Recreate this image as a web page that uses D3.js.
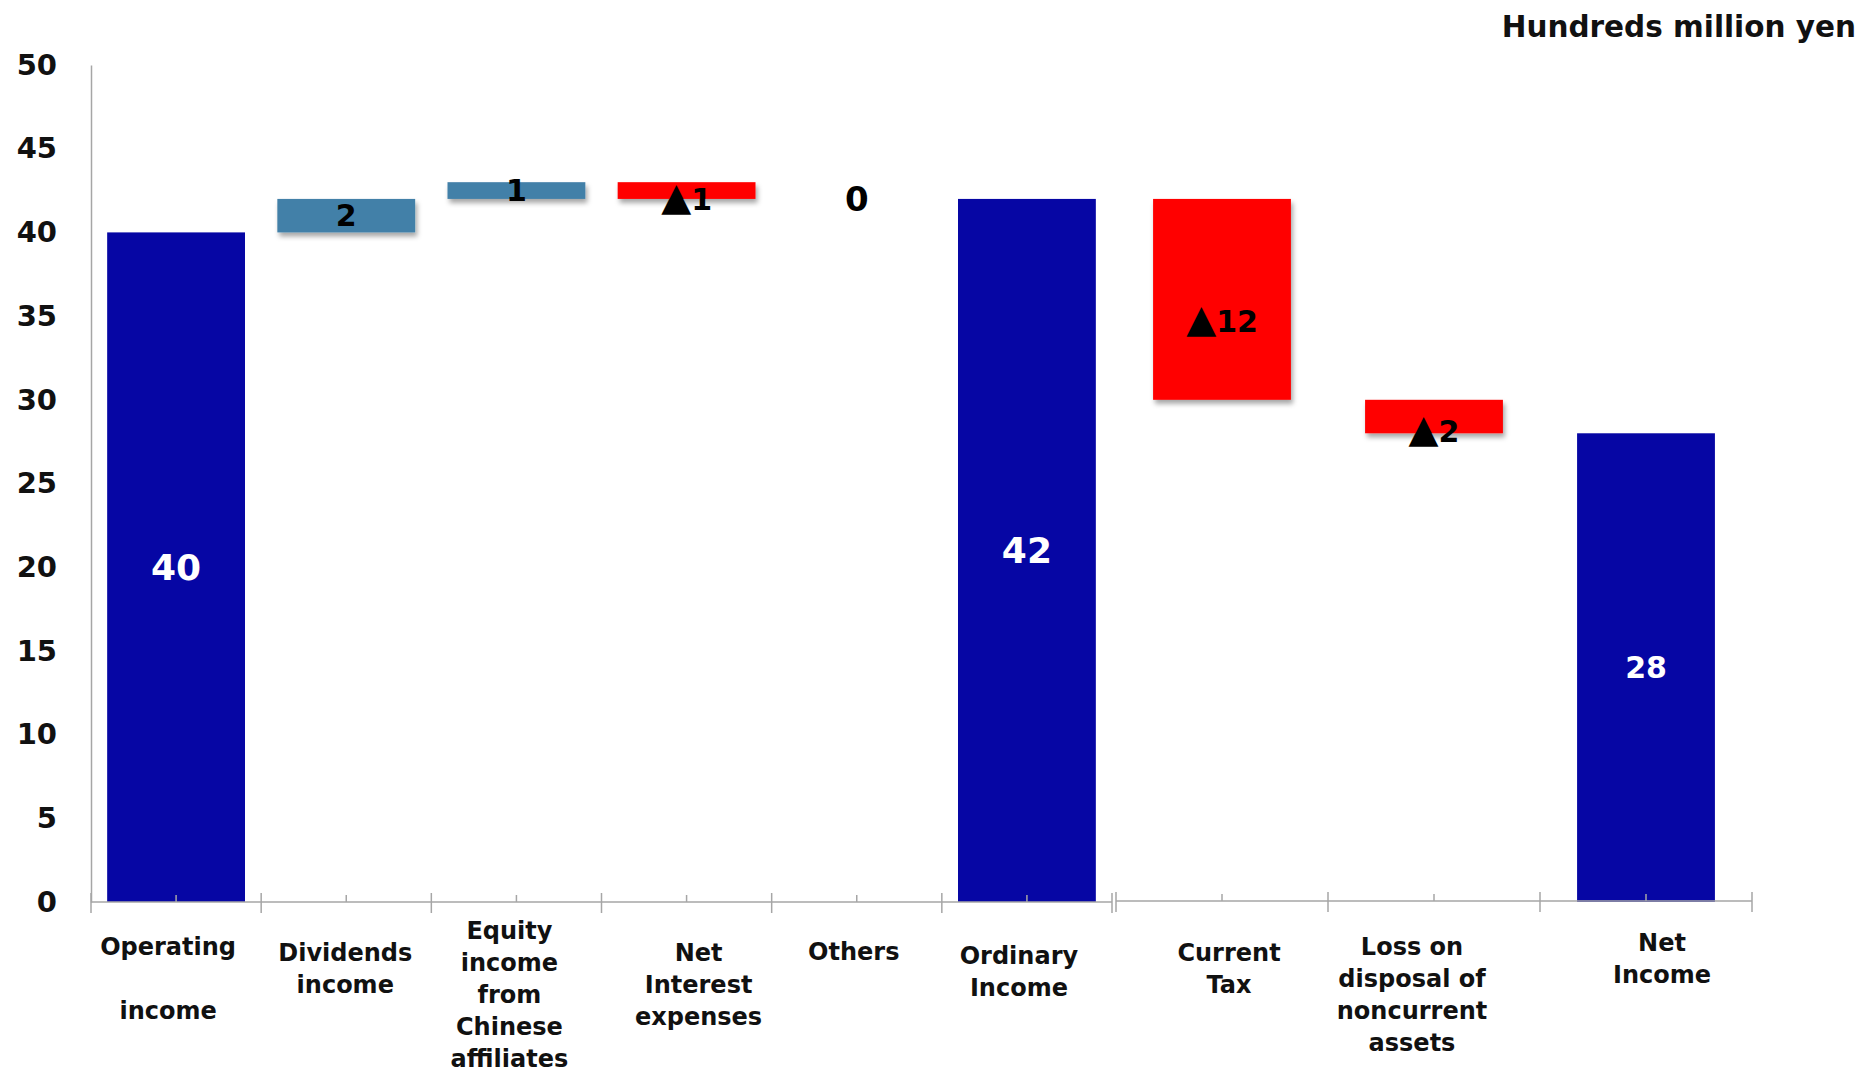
<!DOCTYPE html>
<html>
<head>
<meta charset="utf-8">
<script src="https://cdn.jsdelivr.net/npm/d3@7"></script>
<style>
  body { margin: 0; background: #fff; }
  svg text { font-family: "DejaVu Sans", Verdana, sans-serif; font-weight: bold; }
</style>
</head>
<body>
<svg width="1862" height="1073"></svg>
<script>
// data
const categories = ['Operating income', 'Dividends income', 'Equity income from Chinese affiliates',
  'Net Interest expenses', 'Others', 'Ordinary Income', 'Current Tax',
  'Loss on disposal of noncurrent assets', 'Net Income'];
const labelLines = [
  ['Operating', '', 'income'], ['Dividends', 'income'], ['Equity', 'income', 'from', 'Chinese', 'affiliates'],
  ['Net', 'Interest', 'expenses'], ['Others'], ['Ordinary', 'Income'], ['Current', 'Tax'],
  ['Loss on', 'disposal of', 'noncurrent', 'assets'], ['Net', 'Income']];
const values = [40, 2, 1, -1, 0, 42, -12, -2, 28];
const isTotal = [true, false, false, false, false, true, false, false, true];
const yTicks = [0, 5, 10, 15, 20, 25, 30, 35, 40, 45, 50];
const unitLabel = 'Hundreds million yen';

// layout tweaks
const labelAt = [null, null, null, 42, 42, null, 34.7, 28.1, null]; // value where the number sits (null = middle)
const labelSize = [36, 30, 30, 30, 34, 36, 30, 30, 30];
const catLabelY = [946, 952, 930, 952, 951, 955, 952, 946, 942];
const catLabelDx = [-8, -1, -7, 12, -3, -8, 7, -22, 16];

const colTotal = '#0606a4', colUp = '#4380a8', colDown = '#ff0505', axisCol = '#a6a6a6';

const svg = d3.select('svg');

const y = d3.scaleLinear().domain([0, 50]).range([902, 65]);
const xLeft = d3.scaleBand().domain(categories.slice(0, 6)).range([91, 1112]);
const xRight = d3.scaleBand().domain(categories.slice(6)).range([1116, 1752]);
const xOf = c => (xLeft.domain().includes(c) ? xLeft : xRight);
const xc = c => xOf(c)(c) + xOf(c).bandwidth() / 2;
const barW = xLeft.bandwidth() * 0.81;

// running totals for the waterfall
let run = 0;
const bars = categories.map((c, i) => {
  let lo, hi;
  if (isTotal[i]) { lo = 0; hi = values[i]; run = values[i]; }
  else { const s = run; run += values[i]; lo = Math.min(s, run); hi = Math.max(s, run); }
  return { c, i, v: values[i], lo, hi, end: run };
});

const defs = svg.append('defs');
const f = defs.append('filter').attr('id', 'shadow')
  .attr('x', '-10%').attr('y', '-30%').attr('width', '130%').attr('height', '180%');
f.append('feDropShadow').attr('dx', 2).attr('dy', 4).attr('stdDeviation', 2.5)
  .attr('flood-color', '#000').attr('flood-opacity', 0.35);

// bars
svg.append('g').selectAll('rect')
  .data(bars.filter(d => d.v !== 0))
  .join('rect')
  .attr('x', d => xc(d.c) - barW / 2)
  .attr('width', barW)
  .attr('y', d => y(d.hi))
  .attr('height', d => y(d.lo) - y(d.hi))
  .attr('fill', d => isTotal[d.i] ? colTotal : (d.v > 0 ? colUp : colDown))
  .attr('filter', d => isTotal[d.i] ? null : 'url(#shadow)');

// y axis
const yAxis = svg.append('g').attr('transform', 'translate(91,0)')
  .call(d3.axisLeft(y).tickValues(yTicks).tickSize(0).tickPadding(34));
yAxis.select('.domain').attr('stroke', axisCol).attr('stroke-width', 1.5);
yAxis.selectAll('text').attr('font-size', 29).attr('fill', '#111').attr('font-family', '"DejaVu Sans", sans-serif');

// x axis, two panels
const ax = svg.append('g').attr('stroke', axisCol).attr('stroke-width', 1.5);
[[xLeft, 902], [xRight, 901]].forEach(([sc, y0]) => {
  const r = sc.range();
  ax.append('line').attr('x1', r[0]).attr('x2', r[1]).attr('y1', y0).attr('y2', y0);
  const edges = sc.domain().map(c => sc(c)).concat([r[1]]);
  edges.forEach(e => ax.append('line').attr('x1', e).attr('x2', e).attr('y1', y0 - 9).attr('y2', y0 + 11));
  sc.domain().forEach(c => {
    const m = sc(c) + sc.bandwidth() / 2;
    ax.append('line').attr('x1', m).attr('x2', m).attr('y1', y0 - 7).attr('y2', y0);
  });
});

// value labels
const vl = svg.append('g').selectAll('text')
  .data(bars)
  .join('text')
  .attr('x', d => xc(d.c))
  .attr('y', d => y(labelAt[d.i] != null ? labelAt[d.i] : (d.v === 0 ? d.end : (d.lo + d.hi) / 2)))
  .attr('dy', '0.36em')
  .attr('text-anchor', 'middle')
  .attr('font-size', d => labelSize[d.i])
  .attr('fill', d => isTotal[d.i] ? '#fff' : '#000');
vl.filter(d => d.v < 0).append('tspan').attr('font-size', '1.3em').text('\u25B2');
vl.append('tspan').text(d => Math.abs(d.v));

// category labels
categories.forEach((c, i) => {
  const t = svg.append('text')
    .attr('x', xc(c) + catLabelDx[i])
    .attr('y', catLabelY[i])
    .attr('text-anchor', 'middle')
    .attr('font-size', 24)
    .attr('fill', '#111');
  labelLines[i].forEach((ln, k) => {
    t.append('tspan').attr('x', xc(c) + catLabelDx[i]).attr('y', catLabelY[i] + k * 32)
      .attr('dy', '0.36em').text(ln || '\u00A0');
  });
});

// unit
svg.append('text').attr('x', 1856).attr('y', 26).attr('dy', '0.36em')
  .attr('text-anchor', 'end').attr('font-size', 29.5).attr('fill', '#111').text(unitLabel);
</script>
</body>
</html>
